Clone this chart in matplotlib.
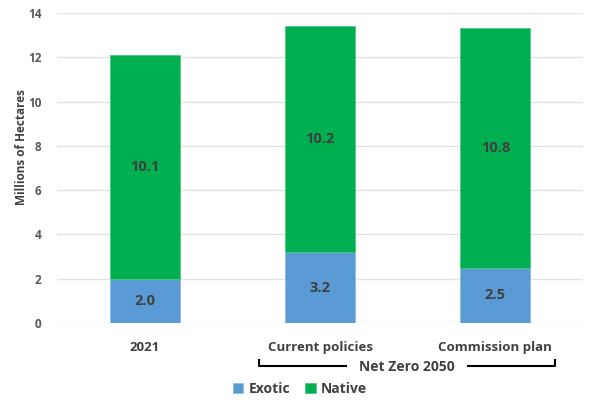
import matplotlib.pyplot as plt

plt.rcParams['font.family'] = ['Open Sans', 'DejaVu Sans']

categories = ['2021', 'Current policies', 'Commission plan']
exotic = [2.0, 3.2, 2.5]
native = [10.1, 10.2, 10.8]
group_label = 'Net Zero 2050'

c_exotic = '#5B9BD5'
c_native = '#00B050'
c_text = '#404040'

fig = plt.figure(figsize=(6.02, 4.03), dpi=100)
ax = fig.add_axes([57 / 602, 1 - 323 / 403, 526 / 602, 310 / 403])

x = range(len(categories))
ax.bar(x, exotic, width=0.4, color=c_exotic, edgecolor='#8fbce6', linewidth=0.6,
       label='Exotic', zorder=3)
ax.bar(x, native, width=0.4, bottom=exotic, color=c_native, edgecolor='#4cc882',
       linewidth=0.6, label='Native', zorder=3)

for i in x:
    ax.text(i, exotic[i] / 2, f"{exotic[i]:.1f}", ha='center', va='center',
            fontsize=10.5, fontweight='bold', color=c_text, zorder=4)
    ax.text(i, exotic[i] + native[i] / 2, f"{native[i]:.1f}", ha='center', va='center',
            fontsize=10.5, fontweight='bold', color=c_text, zorder=4)

ax.set_xlim(-0.5, 2.5)
ax.set_ylim(0, 14)
ax.set_yticks(range(0, 15, 2))
ax.grid(axis='y', color='#e3e3e3', linewidth=1, zorder=0)
ax.tick_params(axis='y', length=0, pad=11, labelsize=8.5, labelcolor='#595959')
for lbl in ax.get_yticklabels():
    lbl.set_fontweight('bold')
ax.set_xticks(list(x))
ax.set_xticklabels(categories, fontsize=9.5, fontweight='bold', color=c_text)
ax.tick_params(axis='x', length=0, pad=13)
for s in ax.spines.values():
    s.set_visible(False)
ax.set_ylabel('Millions of Hectares', fontsize=8.5, fontweight='bold', color=c_text)
ax.yaxis.set_label_coords(-0.055, 0.568)

# bracket under the Net Zero 2050 scenarios
by = 366 / 403
bx0, bx1 = 259 / 602, 555 / 602
gap0, gap1 = 346 / 602, 468 / 602
tick = 6 / 403
kw = dict(color='black', linewidth=1.5, transform=fig.transFigure)
fig.add_artist(plt.Line2D([bx0, bx0, gap0], [1 - by + tick, 1 - by, 1 - by], **kw))
fig.add_artist(plt.Line2D([gap1, bx1, bx1], [1 - by, 1 - by, 1 - by + tick], **kw))
fig.text((gap0 + gap1) / 2, 1 - 367 / 403, group_label, ha='center', va='center',
         fontsize=10, fontweight='bold', color=c_text)

handles, labels = ax.get_legend_handles_labels()
leg = fig.legend(handles, labels, loc='center left', bbox_to_anchor=(233 / 602, 1 - 389 / 403),
                 ncol=2, frameon=False, fontsize=10, handlelength=0.75, handleheight=0.75,
                 handletextpad=0.35, columnspacing=1.1, borderpad=0, borderaxespad=0)
for t in leg.get_texts():
    t.set_fontweight('bold')
    t.set_color(c_text)

fig.savefig('out.png', dpi=100)
